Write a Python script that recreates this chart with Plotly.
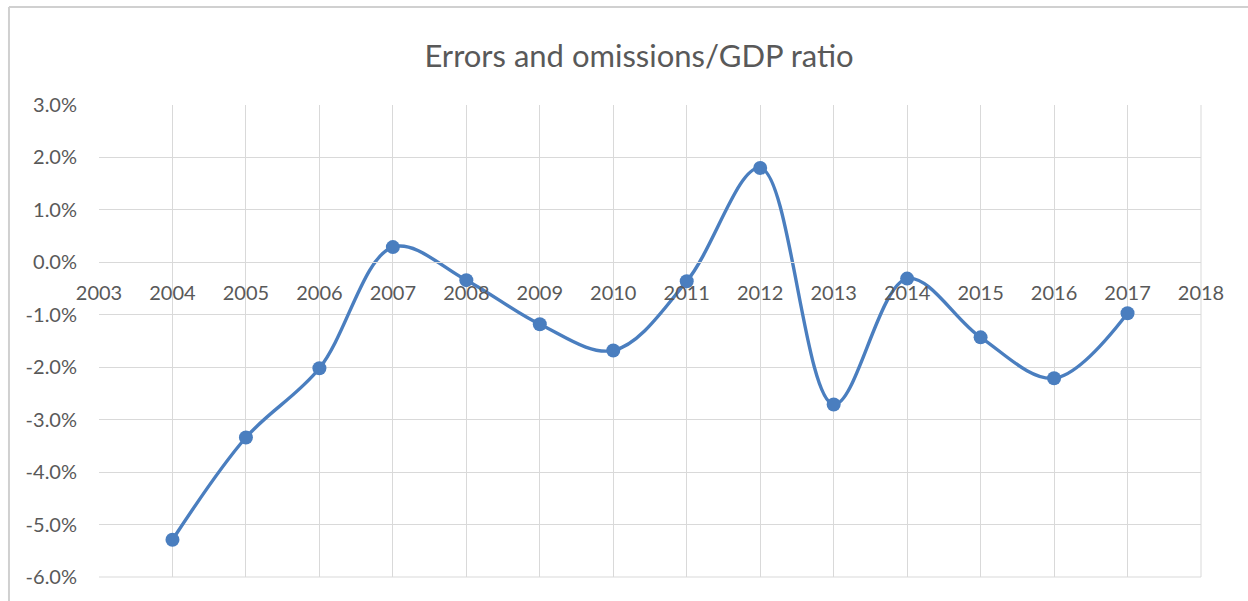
import plotly.graph_objects as go

# Errors and omissions as a share of GDP, in percent
years = [2004, 2005, 2006, 2007, 2008, 2009, 2010, 2011, 2012, 2013, 2014, 2015, 2016, 2017]
ratio_pct = [-5.29, -3.34, -2.02, 0.29, -0.34, -1.18, -1.68, -0.36, 1.80, -2.71, -0.31, -1.43, -2.21, -0.97]

x_ticks = list(range(2003, 2019))
y_ticks = [3, 2, 1, 0, -1, -2, -3, -4, -5, -6]
y_tick_labels = [f"{v:.1f}%" for v in y_ticks]

LINE_BLUE = "#4A7EBF"
GRID = "#D9D9D9"
TEXT = "#595959"
FONT = "Lato"

fig = go.Figure()
fig.add_trace(go.Scatter(
    x=years,
    y=ratio_pct,
    mode="lines+markers",
    line=dict(color=LINE_BLUE, width=3.4, shape="spline", smoothing=1),
    marker=dict(color=LINE_BLUE, size=14),
    hoverinfo="x+y",
    showlegend=False,
))

y_min, y_max = -6, 3
fig.update_layout(
    width=1248,
    height=601,
    margin=dict(l=99, r=47, t=105, b=24),
    paper_bgcolor="white",
    plot_bgcolor="white",
    title=dict(
        text="Errors and omissions/GDP ratio",
        x=639 / 1248, xanchor="center", xref="container",
        y=1 - 56 / 601, yanchor="middle", yref="container",
        font=dict(family=FONT, size=31, color=TEXT),
    ),
    xaxis=dict(
        range=[2003, 2018],
        tickvals=x_ticks,
        ticktext=[str(v) for v in x_ticks],
        showgrid=True, gridcolor=GRID, gridwidth=1,
        zeroline=False,
        showline=True, linecolor=GRID, linewidth=1,
        anchor="free",
        position=(0 - y_min) / (y_max - y_min),
        ticks="",
        ticklabelstandoff=13,
        tickfont=dict(family=FONT, size=20, color=TEXT),
    ),
    yaxis=dict(
        range=[y_min, y_max],
        tickvals=y_ticks,
        ticktext=y_tick_labels,
        showgrid=True, gridcolor=GRID, gridwidth=1,
        zeroline=False,
        showline=False,
        ticks="",
        ticklabelstandoff=21,
        tickfont=dict(family=FONT, size=20, color=TEXT),
    ),
    shapes=[
        # chart frame around the whole area
        dict(type="line", xref="paper", yref="paper",
             x0=-0.0817, x1=1.1, y0=1.2076, y1=1.2076,
             line=dict(color="#D0D0D0", width=2)),
        dict(type="line", xref="paper", yref="paper",
             x0=-0.0817, x1=-0.0817, y0=-0.1, y1=1.2076,
             line=dict(color="#D0D0D0", width=2)),
        # right and bottom edges of the plot area
        dict(type="line", xref="paper", yref="paper",
             x0=1, x1=1, y0=0, y1=1,
             line=dict(color=GRID, width=1), layer="below"),
        dict(type="line", xref="paper", yref="paper",
             x0=0, x1=1, y0=0, y1=0,
             line=dict(color=GRID, width=1), layer="below"),
    ],
)

fig.write_html("out.html")
